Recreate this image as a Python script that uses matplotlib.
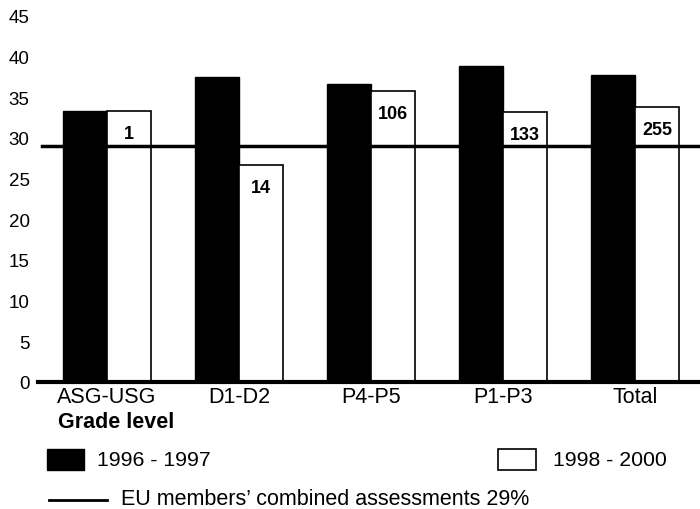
import matplotlib

matplotlib.use("Agg")
import matplotlib.pyplot as plt
from matplotlib.patches import Rectangle
from matplotlib.lines import Line2D
import numpy as np

plt.rcParams['font.family'] = ['Liberation Sans', 'DejaVu Sans']

# --- data ---
grades = ['ASG-USG', 'D1-D2', 'P4-P5', 'P1-P3', 'Total']
share_9697 = [33.3, 37.5, 36.6, 38.8, 37.8]
share_9800 = [33.3, 26.7, 35.8, 33.2, 33.8]
n_9800 = [1, 14, 106, 133, 255]
eu_level = 29
yticks = [0, 5, 10, 15, 20, 25, 30, 35, 40, 45]

W, H = 700, 510
fig = plt.figure(figsize=(W / 100, H / 100), dpi=100)
# axes box in pixels: x 38..700, y 17..383 (from top)
ax = fig.add_axes([38 / W, (H - 383) / H, 662 / W, 366 / H])

x = np.arange(len(grades))
bw = 1 / 3
ax.bar(x - bw / 2, share_9697, bw, color='black', edgecolor='black', linewidth=1.0)
ax.bar(x + bw / 2, share_9800, bw, color='white', edgecolor='black', linewidth=1.2)

for xi, v, n in zip(x, share_9800, n_9800):
    ax.annotate(str(n), (xi + bw / 2, v), xytext=(0, -16), textcoords='offset points',
                ha='center', va='center', fontsize=13, fontweight='bold')

ax.axhline(eu_level, xmin=4 / 662, xmax=1, color='black', linewidth=2.5, zorder=3)
ax.axhline(0, color='black', linewidth=3, zorder=3, clip_on=False)

ax.set_xlim(-0.523, 4.49)
ax.set_ylim(0, 45)
for s in ax.spines.values():
    s.set_visible(False)
ax.set_yticks(yticks)
ax.set_yticklabels([str(t) for t in yticks], fontsize=13.5)
ax.set_xticks(x)
ax.set_xticklabels(grades, fontsize=15.5)
ax.tick_params(axis='y', length=0, pad=6)
ax.tick_params(axis='x', length=0, pad=3)

fig.text(58 / W, 1 - 423 / H, 'Grade level', fontsize=15.5, fontweight='bold', va='center')

# legend
fig.add_artist(Rectangle((47 / W, 1 - 471 / H), 37 / W, 21 / H, transform=fig.transFigure,
                         facecolor='black', edgecolor='black', linewidth=1))
fig.text(97 / W, 1 - 461 / H, '1996 - 1997', fontsize=15.3, va='center')
fig.add_artist(Rectangle((498 / W, 1 - 471 / H), 38 / W, 21 / H, transform=fig.transFigure,
                         facecolor='white', edgecolor='black', linewidth=1.2))
fig.text(553 / W, 1 - 461 / H, '1998 - 2000', fontsize=15.3, va='center')
fig.add_artist(Line2D([49 / W, 107 / W], [1 - 501 / H, 1 - 501 / H], transform=fig.transFigure,
                      color='black', linewidth=2))
fig.text(121 / W, 1 - 500 / H, 'EU members\u2019 combined assessments 29%', fontsize=15.5, va='center')

fig.savefig('out.png', dpi=100)
